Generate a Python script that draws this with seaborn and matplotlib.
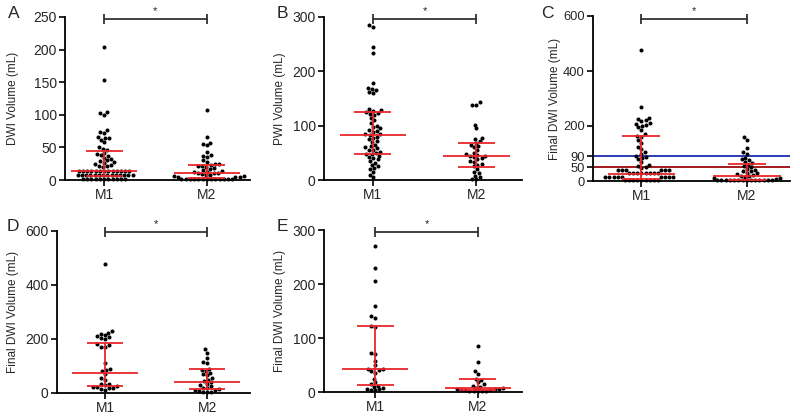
import numpy as np
import pandas as pd
import matplotlib
matplotlib.use("Agg")
import matplotlib.pyplot as plt
import seaborn as sns

# ---------------- data ----------------
groups = ["M1", "M2"]

a_m1 = [204, 153, 104, 103, 100, 77, 73, 72, 66, 65, 64, 62, 58, 50, 48, 46, 42, 40,
        38, 37, 34, 32, 30, 29, 27, 26, 25, 23, 22, 21, 20,
        14, 14, 14, 14, 14, 14, 14, 14, 14, 14, 14, 14, 14,
        8, 8, 8, 8, 8, 8, 8, 8, 8, 8, 8, 8, 8, 8,
        2, 2, 2, 2, 2, 2, 2, 2, 2, 2, 2]
a_m2 = [108, 66, 57, 55, 53, 43, 38, 37, 36, 30, 27, 25, 24, 23, 22, 21, 20, 18, 17,
        15, 14, 13, 12, 11, 10, 10, 9, 8, 7, 6, 6, 5, 5, 4,
        1, 1, 1, 1, 1, 1, 1, 1, 1, 1, 1, 1, 1]
a_median, a_q1, a_q3 = [14, 11], [6, 2.5], [45, 23.5]

b_m1 = [285, 282, 245, 233, 178, 170, 168, 165, 162, 160, 130, 128, 127, 125, 123,
        122, 120, 115, 110, 105, 100, 98, 95, 92, 90, 88, 85, 84, 83, 80, 78, 75, 72,
        70, 65, 62, 60, 58, 56, 55, 52, 50, 48, 47, 45, 42, 40, 38, 35, 32, 28, 25,
        22, 20, 15, 10, 5]
b_m2 = [143, 138, 138, 102, 95, 78, 75, 72, 68, 65, 62, 60, 55, 50, 48, 46, 45, 44,
        42, 40, 38, 35, 33, 30, 28, 25, 20, 15, 12, 8, 5, 2, 1]
b_median, b_q1, b_q3 = [83.5, 45], [47, 24], [126, 68]

c_m1 = [475, 268, 230, 225, 222, 218, 212, 208, 205, 200, 195, 185, 170, 165, 160,
        150, 140, 125, 115, 105, 100, 92, 88, 85, 80, 70, 60, 55, 50, 48,
        40, 40, 40, 40, 40, 40, 28, 28, 28, 28, 28, 28, 28, 28,
        16, 16, 16, 16, 16, 16, 16, 16, 16, 4, 4, 4, 4, 4, 4, 4, 4, 4]
c_m2 = [160, 150, 120, 105, 100, 85, 80, 75, 70, 65, 60, 55, 50, 45, 40, 38, 35, 30,
        28, 25, 22, 20, 18, 15, 12, 10, 8,
        2, 2, 2, 2, 2, 2, 2, 2, 2, 2, 2, 2, 2, 2]
c_median, c_q1, c_q3 = [24, 20], [6, 3], [164, 62]
c_thresholds = [90, 50]

d_m1 = [478, 228, 224, 220, 215, 212, 208, 204, 200, 180, 176, 172, 170, 110, 90,
        85, 80, 70, 55, 50, 35, 32, 28, 26, 24, 22, 20, 18, 15, 12]
d_m2 = [163, 150, 130, 115, 110, 90, 85, 80, 75, 70, 65, 55, 50, 45, 40, 35, 30, 25,
        20, 18, 15, 12, 10, 8, 5, 3, 2]
d_median, d_q1, d_q3 = [75, 42], [26, 16], [184, 88]

e_m1 = [270, 230, 205, 160, 140, 137, 122, 120, 73, 70, 58, 50, 43, 42, 40, 38, 36,
        25, 18, 15, 12, 10, 8, 6, 5, 4, 3]
e_m2 = [85, 56, 38, 33, 25, 22, 18, 15, 12, 10, 8, 7, 6, 5, 5, 4, 3, 3, 2, 2, 1, 1, 1]
e_median, e_q1, e_q3 = [42, 8], [13, 3], [123, 24]

ylabels = ["DWI Volume (mL)", "PWI Volume (mL)", "Final DWI Volume (mL)",
           "Final DWI Volume (mL)", "Final DWI Volume (mL)"]
letters = ["A", "B", "C", "D", "E"]

# ---------------- style ----------------
sns.set_style("ticks")
plt.rcParams["font.family"] = ["Liberation Sans", "DejaVu Sans"]

W, H = 800, 418
fig = plt.figure(figsize=(8.0, 4.18), dpi=100)

def px_axes(x0, x1, ytop, ybot):
    return fig.add_axes([x0 / W, 1 - ybot / H, (x1 - x0) / W, (ybot - ytop) / H])

panels = [
    dict(m1=a_m1, m2=a_m2, med=a_median, q1=a_q1, q3=a_q3, ylim=(0, 250),
         yticks=[0, 50, 100, 150, 200, 250], box=(65, 250, 17, 180),
         xlim=(-0.38, 1.42), brk=247, lab=(8, 14), ylx=19, tfs=10),
    dict(m1=b_m1, m2=b_m2, med=b_median, q1=b_q1, q3=b_q3, ylim=(0, 300),
         yticks=[0, 100, 200, 300], box=(324, 522, 17, 180),
         xlim=(-0.47, 1.44), brk=296, lab=(277, 14), ylx=286, tfs=10),
    dict(m1=c_m1, m2=c_m2, med=c_median, q1=c_q1, q3=c_q3, ylim=(0, 600),
         yticks=[0, 50, 90, 200, 400, 600], box=(593, 790, 16, 181),
         xlim=(-0.46, 1.41), brk=590, lab=(541, 14), ylx=561, tfs=9.3),
    dict(m1=d_m1, m2=d_m2, med=d_median, q1=d_q1, q3=d_q3, ylim=(0, 600),
         yticks=[0, 200, 400, 600], box=(57, 250, 231, 393),
         xlim=(-0.47, 1.42), brk=595, lab=(7, 226), ylx=19, tfs=10),
    dict(m1=e_m1, m2=e_m2, med=e_median, q1=e_q1, q3=e_q3, ylim=(0, 300),
         yticks=[0, 100, 200, 300], box=(324, 522, 230, 392),
         xlim=(-0.5, 1.43), brk=296, lab=(277, 226), ylx=286, tfs=10),
]

red = "#e8262d"
for i, p in enumerate(panels):
    ax = px_axes(*p["box"])
    df = pd.DataFrame({"group": ["M1"] * len(p["m1"]) + ["M2"] * len(p["m2"]),
                       "value": p["m1"] + p["m2"]})
    sns.swarmplot(data=df, x="group", y="value", order=groups, color="black",
                  size=2.9, linewidth=0, ax=ax, warn_thresh=1.0, zorder=2)
    for coll in ax.collections:
        coll.set_clip_on(False)

    if i == 2:
        ax.axhline(c_thresholds[0], color="#2b3cb5", lw=1.4, zorder=1.5)
        ax.axhline(c_thresholds[1], color="#a3181b", lw=1.4, zorder=1.5)

    for k in range(2):
        ax.hlines(p["med"][k], k - 0.32, k + 0.32, color=red, lw=1.3, zorder=3)
        ax.hlines([p["q1"][k], p["q3"][k]], k - 0.18, k + 0.18, color=red, lw=1.3, zorder=3)
        ax.vlines(k, p["q1"][k], p["q3"][k], color=red, lw=1.3, zorder=3)

    # significance bracket
    ax.plot([0, 1], [p["brk"], p["brk"]], color="#333333", lw=1.3, marker="|",
            markersize=7, markeredgewidth=1.3, clip_on=False, zorder=4)
    ax.annotate("*", xy=(0.5, p["brk"]), xytext=(0, 2), textcoords="offset points",
                ha="center", va="bottom", fontsize=8, annotation_clip=False)

    ax.set_xlim(*p["xlim"])
    ax.set_ylim(*p["ylim"])
    ax.set_yticks(p["yticks"])
    ax.set_xlabel("")
    ax.set_ylabel(ylabels[i], fontsize=8.5)
    ymid = 1 - (p["box"][2] + p["box"][3]) / 2 / H
    ax.yaxis.set_label_coords(p["ylx"] / W, ymid, transform=fig.transFigure)
    sns.despine(ax=ax)
    for s in ["left", "bottom"]:
        ax.spines[s].set_linewidth(1.3)
        ax.spines[s].set_color("black")
    ax.tick_params(axis="both", labelsize=10, length=4, width=1.2, color="black",
                   direction="out", pad=2)
    ax.tick_params(axis="y", labelsize=p["tfs"])

    fig.text(p["lab"][0] / W, 1 - p["lab"][1] / H, letters[i], fontsize=12.5,
             ha="left", va="center")

fig.savefig("out.png", dpi=100)
